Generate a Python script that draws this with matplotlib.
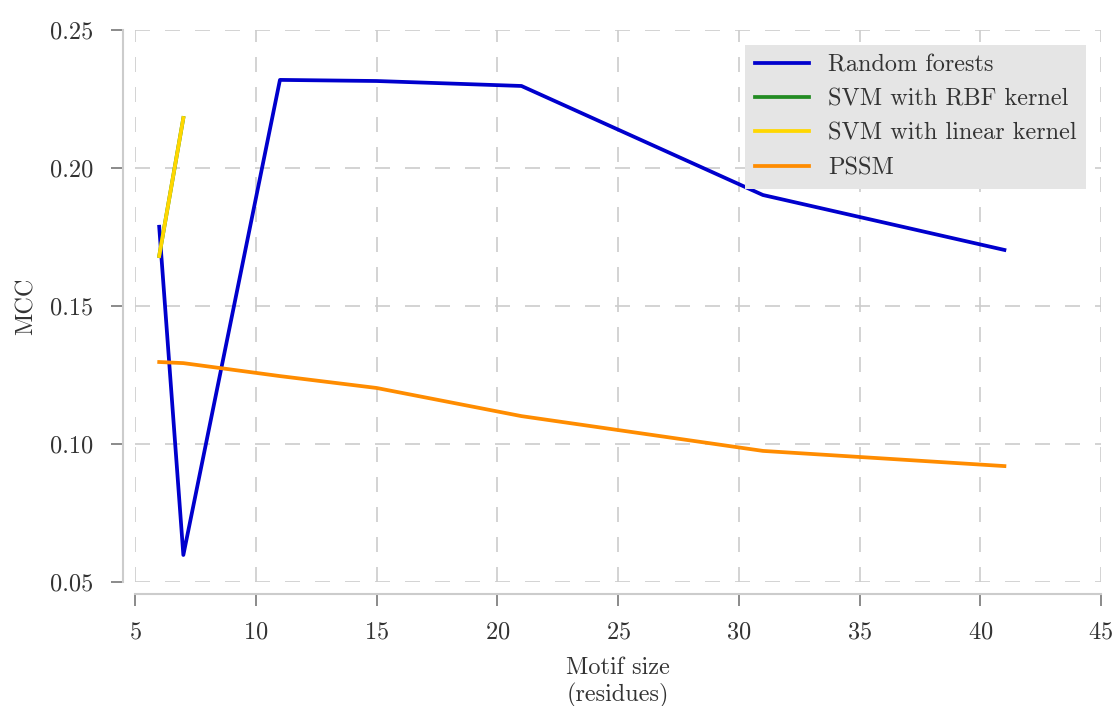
import matplotlib
matplotlib.use('Agg')
import matplotlib.pyplot as plt

# motif sizes and MCC values
sizes = [6, 7, 11, 15, 21, 31, 41]
rf_mcc = [0.1787, 0.0598, 0.2319, 0.2315, 0.2297, 0.1902, 0.1703]
svm_sizes = [6, 7]
svm_rbf_mcc = [0.1681, 0.2181]
svm_lin_mcc = [0.1681, 0.2181]
pssm_mcc = [0.1297, 0.1293, 0.1246, 0.1203, 0.1101, 0.0975, 0.0920]

x_ticks = [5, 10, 15, 20, 25, 30, 35, 40, 45]
y_ticks = [0.05, 0.10, 0.15, 0.20, 0.25]

plt.rcParams['font.family'] = ['cmr10', 'DejaVu Serif']
plt.rcParams['mathtext.fontset'] = 'cm'
plt.rcParams['axes.formatter.use_mathtext'] = True

fs = 17.5
fig = plt.figure(figsize=(11.18, 7.06), dpi=100)
ax = fig.add_axes([0.1208, 0.1756, 0.864, 0.782])

lw = 2.7
ax.plot(sizes, rf_mcc, color='#0000cd', lw=lw, label='Random forests')
ax.plot(svm_sizes, svm_rbf_mcc, color='#228b22', lw=lw, label='SVM with RBF kernel')
ax.plot(svm_sizes, svm_lin_mcc, color='#ffd700', lw=lw, label='SVM with linear kernel')
ax.plot(sizes, pssm_mcc, color='#ff8c00', lw=lw, label='PSSM')

ax.set_xlim(5, 45)
ax.set_ylim(0.05, 0.25)
ax.set_xticks(x_ticks)
ax.set_yticks(y_ticks)
ax.set_yticklabels(['%.2f' % v for v in y_ticks])

ax.grid(True, color='#cccccc', linestyle=(0, (9, 9)), lw=1.2)
ax.set_axisbelow(True)

for s in ['top', 'right']:
    ax.spines[s].set_visible(False)
for s in ['left', 'bottom']:
    ax.spines[s].set_position(('outward', 8.6))
    ax.spines[s].set_color('#cccccc')
    ax.spines[s].set_linewidth(1.5)

ax.tick_params(colors='#777777', labelcolor='#333333', labelsize=fs,
               length=8.5, width=1.2)
ax.tick_params(axis='x', pad=11)
ax.tick_params(axis='y', pad=13)

ax.set_xlabel('Motif size\n(residues)', fontsize=fs, color='#333333', labelpad=10)
ax.set_ylabel('MCC', fontsize=fs, color='#333333', labelpad=9)

leg = ax.legend(loc='upper right', fontsize=fs, frameon=True, fancybox=False,
                borderaxespad=0.6, handlelength=2.2)
leg.get_frame().set_facecolor('#e5e5e5')
leg.get_frame().set_edgecolor('none')
leg.get_frame().set_alpha(1)
for t in leg.get_texts():
    t.set_color('#333333')

fig.savefig('out.png', dpi=100)
